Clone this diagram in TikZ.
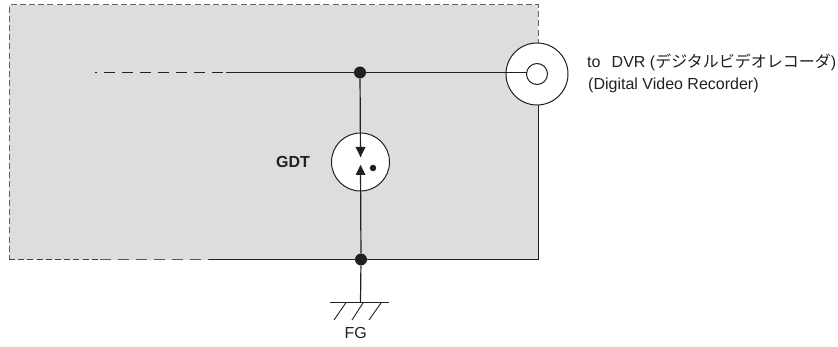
\documentclass[tikz,border=0pt]{standalone}
\usepackage{fontspec}
\setmainfont{Liberation Sans}
\newfontfamily\cjkfont{Noto Sans CJK JP}
\definecolor{panel}{RGB}{220,221,222}
\definecolor{ink}{RGB}{35,31,32}
\tikzset{
  wire/.style={draw=ink,line width=1.2pt},
  thinline/.style={draw=ink,line width=0.9pt},
  junction/.style={circle,fill=ink,draw=none,inner sep=0pt,minimum size=12pt},
  whitedisc/.style={circle,fill=white,draw=ink,line width=1pt,inner sep=0pt},
  tipshape/.style={fill=ink,draw=none},
  label/.style={inner sep=0pt,text=ink,font=\fontsize{16}{18}\selectfont},
}
\begin{document}
\begin{tikzpicture}[x=1pt,y=-1pt]
\useasboundingbox (0,0) rectangle (838,347);
% panel
\fill[panel] (9,5) rectangle (538,260);
\draw[draw=ink!70,line width=1pt,dash pattern=on 6pt off 3.2pt] (538,100) -- (538,5) -- (9,5) -- (9,260);
\draw[draw=ink!85,line width=1pt,dash pattern=on 6pt off 3.2pt] (9,260) -- (100,260);
\draw[draw=ink!75,line width=1pt,dash pattern=on 11pt off 7pt] (100,260) -- (209,260);
\draw[wire,line width=1pt] (209,260) -- (538,260) -- (538,105);
% nodes
\node[whitedisc,minimum size=62pt] (bnc) at (537,74) {};
\node[whitedisc,minimum size=21pt] (core) at (537,74) {};
\node[whitedisc,minimum size=58pt] (gdt) at (360.5,162) {};
\node[junction] (top) at (360,72.5) {};
\node[junction] (bottom) at (361,259.5) {};
\coordinate (lineend) at (95,72.5);
\coordinate (linebreak) at (226,72.5);
\coordinate (corein) at (526.7,72.5);
\coordinate (gdttop) at (360.5,157);
\coordinate (gdtbot) at (360.5,166);
\coordinate (gnd) at (360.5,302.7);
\coordinate (gndl) at (330,302.7);
\coordinate (gndr) at (389,302.7);
% wires
\draw[wire,dash pattern=on 11pt off 7pt,dash phase=9pt] (lineend) -- (linebreak);
\draw[wire] (linebreak) -- (top) -- (corein);
\draw[wire] (top) -- (gdttop);
\draw[wire] (bottom) -- (gdtbot);
\draw[wire] (bottom) -- (gnd);
% GDT interior
\fill[tipshape] (355.5,147) -- (365.5,147) -- (360.5,157) -- cycle;
\fill[tipshape] (355.5,175) -- (365.5,175) -- (360.5,165) -- cycle;
\node[circle,fill=ink,inner sep=0pt,minimum size=6.5pt] (spark) at (373,168) {};
% ground
\draw[thinline] (gndl) -- (gndr);
\draw[thinline] (345.7,303) -- (334,320);
\draw[thinline] (363,303) -- (352,320);
\draw[thinline] (381,303) -- (369,320);
% labels
\node[label,anchor=base west,font=\fontsize{16}{18}\selectfont\bfseries] (gdtlabel) at (276,168) {GDT};
\node[label,anchor=base west] (fg) at (344.5,338.7) {FG};
\node[label,anchor=base west] (dvr1) at (587,68) {to\hspace{0.7em}DVR ({\cjkfont デジタルビデオレコーダ})};
\node[label,anchor=base west] (dvr2) at (588,89.5) {(Digital Video Recorder)};
\end{tikzpicture}
\end{document}
